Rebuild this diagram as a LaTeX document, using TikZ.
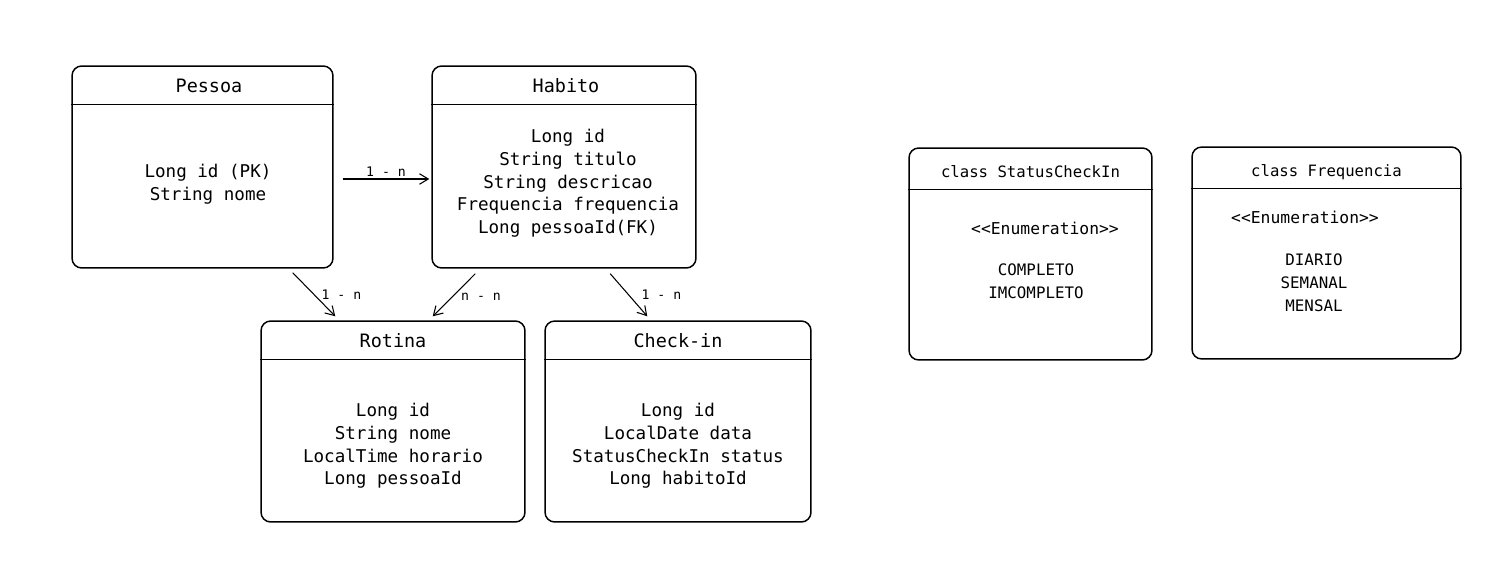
\documentclass[tikz,border=0pt]{standalone}
\usepackage{fontspec}
\setmonofont{DejaVu Sans Mono}
\usetikzlibrary{arrows.meta,positioning,calc}

\tikzset{
    classbox/.style={draw, line width=0.85pt, rounded corners=5.5pt, inner sep=0pt},
    title/.style={font=\ttfamily\fontsize{10.5}{12.9}\selectfont, align=center},
    field/.style={font=\ttfamily\fontsize{10}{12.9}\selectfont, align=center},
    enumval/.style={font=\ttfamily\fontsize{9}{13}\selectfont, align=center},
    rel/.style={->, >={Straight Barb[length=5pt,width=6pt]}, line width=0.6pt},
    card/.style={font=\ttfamily\fontsize{7.5}{9}\selectfont, inner sep=1pt}
}

\begin{document}
\begin{tikzpicture}[x=0.02cm, y=-0.02cm]
    \useasboundingbox[fill=white] (0,0) rectangle (1511,584);

    % entity boxes
    \node[classbox, minimum width=5.22cm, minimum height=4.04cm] (pessoa) at (202.5,167) {};
    \node[classbox, minimum width=5.28cm, minimum height=4.04cm] (habito) at (564,167) {};
    \node[classbox, minimum width=5.28cm, minimum height=4.02cm] (rotina) at (393,421.5) {};
    \node[classbox, minimum width=5.32cm, minimum height=4.02cm] (checkin) at (678,421.5) {};
    \node[classbox, minimum width=4.86cm, minimum height=4.24cm] (status) at (1030.5,254) {};
    \node[classbox, minimum width=5.38cm, minimum height=4.24cm] (freq) at (1326.5,253) {};

    % header lines
    \foreach \b in {pessoa, habito, rotina, checkin}
        \draw[line width=0.85pt] ([yshift=-0.78cm]\b.north west) -- ([yshift=-0.78cm]\b.north east);
    \foreach \b in {status, freq}
        \draw[line width=0.85pt] ([yshift=-0.84cm]\b.north west) -- ([yshift=-0.84cm]\b.north east);

    % titles
    \node[title] (pessoaT) at (209,86) {Pessoa};
    \node[title] (habitoT) at (566,86) {Habito};
    \node[title] (rotinaT) at (393,341) {Rotina};
    \node[title] (checkinT) at (678,341) {Check-in};
    \node[title, font=\ttfamily\fontsize{8.9}{12}\selectfont] (statusT) at (1030.5,172) {class StatusCheckIn};
    \node[title, font=\ttfamily\fontsize{8.9}{12}\selectfont] (freqT) at (1326.5,172) {class Frequencia};

    % attributes
    \node[field] (pessoaF) at (208,184) {Long id (PK)\\String nome};
    \node[field] (habitoF) at (568,183.5) {Long id\\String titulo\\String descricao\\Frequencia frequencia\\Long pessoaId(FK)};
    \node[field] (rotinaF) at (393,446) {Long id\\String nome\\LocalTime horario\\Long pessoaId};
    \node[field] (checkinF) at (678,446) {Long id\\LocalDate data\\StatusCheckIn status\\Long habitoId};

    % enumerations
    \node[enumval, font=\ttfamily\fontsize{9.3}{12}\selectfont] (statusS) at (1045,228) {<<Enumeration>>};
    \node[enumval] (statusV) at (1036,281.5) {COMPLETO\\IMCOMPLETO};
    \node[enumval, font=\ttfamily\fontsize{9.3}{12}\selectfont] (freqS) at (1305,217) {<<Enumeration>>};
    \node[enumval] (freqV) at (1314,283) {DIARIO\\SEMANAL\\MENSAL};

    % relations
    \draw[rel] ([xshift=0.18cm,yshift=-0.24cm]pessoa.east) -- ([xshift=-0.04cm,yshift=-0.24cm]habito.west)
        node[card, midway, above] {1 - n};
    \coordinate (p1) at ([xshift=-0.82cm,yshift=-0.08cm]pessoa.south east);
    \coordinate (r1) at ([xshift=1.5cm,yshift=0.08cm]rotina.north west);
    \draw[rel] (p1) -- (r1) node[card, pos=0.5, right=3pt] {1 - n};
    \coordinate (h1) at ([xshift=0.88cm,yshift=-0.1cm]habito.south west);
    \coordinate (r2) at ([xshift=-1.86cm,yshift=0.08cm]rotina.north east);
    \draw[rel] (h1) -- (r2) node[card, pos=0.55, right=4pt] {n - n};
    \coordinate (h2) at ([xshift=3.58cm,yshift=-0.1cm]habito.south west);
    \coordinate (c1) at ([xshift=2.06cm,yshift=0.08cm]checkin.north west);
    \draw[rel] (h2) -- (c1) node[card, pos=0.5, right=6pt] {1 - n};
\end{tikzpicture}
\end{document}
